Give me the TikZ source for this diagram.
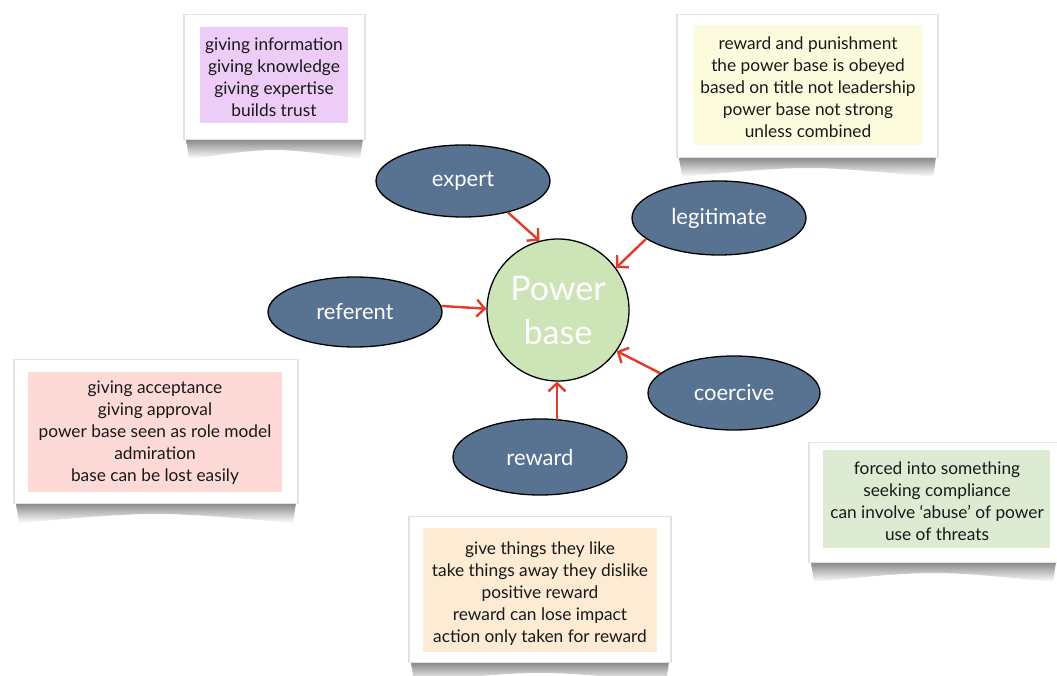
\documentclass[tikz,border=0pt]{standalone}
\usepackage{fontspec}
\setmainfont{Lato}
\usetikzlibrary{shapes.geometric,arrows.meta}
\definecolor{slate}{HTML}{587291}
\definecolor{pbgreen}{HTML}{CDE5B6}
\definecolor{arrred}{HTML}{E23B2C}
\definecolor{lilac}{HTML}{EDCDF8}
\definecolor{paleyel}{HTML}{FDFBDD}
\definecolor{palepink}{HTML}{FDD9D8}
\definecolor{palegrn}{HTML}{DDEBD3}
\definecolor{paleorg}{HTML}{FDEBD3}
\newcommand\papercard[4]{%
  \shade[top color=gray!95,bottom color=white]
    (#1+1,#4) -- (#1+4,#4+20) .. controls ({(#1+#3)/2},#4+8) .. (#3-4,#4+20) -- (#3-1,#4) -- cycle;
  \fill[gray!22] (#1-2,#2-1) rectangle (#3+2,#4+1);
  \fill[white] (#1,#2) rectangle (#3,#4);
}
\tikzset{
  x=1pt,y=-1pt,
  oval/.style={ellipse,draw=black,line width=1.3pt,fill=slate,text=white,
    minimum width=174pt,minimum height=72pt,inner sep=0pt,font=\fontsize{22}{24}\selectfont},
  hub/.style={circle,draw=black,line width=1.3pt,fill=pbgreen,text=white,
    minimum size=142pt,inner sep=0pt,align=center,font=\fontsize{34}{42}\selectfont},
  note/.style={align=center,inner sep=0pt,text=black!90,font=\fontsize{17.3}{22}\selectfont},
  arr/.style={draw=arrred,line width=2.4pt,-{Straight Barb[length=8pt,width=17pt]}},
}
\begin{document}
\begin{tikzpicture}
\useasboundingbox[fill=white] (0,0) rectangle (1057,676);

% cards
\papercard{185}{15}{364}{139}
\fill[lilac] (200,27) rectangle (348,123);
\node[note] (nexp) at (274,77) {giving information\\giving knowledge\\giving expertise\\builds trust};

\papercard{678}{15}{937}{157}
\fill[paleyel] (693,25) rectangle (923,145);
\node[note] (nleg) at (808,87) {reward and punishment\\the power base is obeyed\\based on title not leadership\\power base not strong\\unless combined};

\papercard{15}{360}{297}{503}
\fill[palepink] (28,372) rectangle (282,492);
\node[note] (nref) at (155,433) {giving acceptance\\giving approval\\power base seen as role model\\admiration\\base can be lost easily};

\papercard{810}{443}{1057}{562}
\fill[palegrn] (823,450) rectangle (1050,548);
\node[note] (ncoe) at (937,501) {forced into something\\seeking compliance\\can involve ‘abuse’ of power\\use of threats};

\papercard{410}{517}{670}{662}
\fill[paleorg] (423,528) rectangle (657,652);
\node[note] (nrew) at (540,594) {give things they like\\take things away they dislike\\positive reward\\reward can lose impact\\action only taken for reward};

% hub and ovals
\node[hub] (pb) at (558,310) {\rule{0pt}{8pt}Power\\[2pt]base};
\node[oval] (expert) at (463,181) {expert};
\node[oval,minimum height=74pt] (legit) at (719,218) {legitimate};
\node[oval,minimum height=70pt] (referent) at (355,312) {referent};
\node[oval,minimum width=172pt,minimum height=74pt] (coercive) at (734,393) {coercive};
\node[oval,minimum height=76pt] (reward) at (540,457) {reward};

% connectors
\draw[arr] (expert.-35) -- (pb.105);
\draw[arr] (legit.196) -- (pb.36);
\draw[arr] (referent.4) -- (pb.179);
\draw[arr] (coercive.165) -- (pb.-35);
\coordinate (rw) at ([xshift=17pt,yshift=-2pt]reward.north);
\draw[arr] (rw) -- (rw |- pb.south);
\end{tikzpicture}
\end{document}
